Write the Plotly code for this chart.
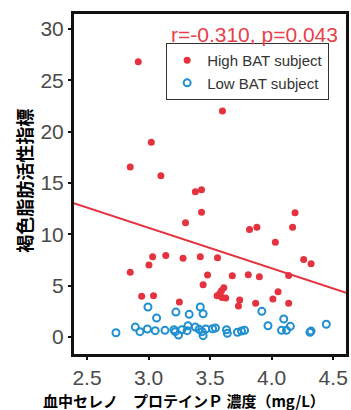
import plotly.graph_objects as go

# High BAT subjects (filled red)
high_x = [2.916, 3.60, 3.022, 2.851, 3.10, 3.38, 3.43, 3.43, 3.30,
          4.19, 4.17, 3.88, 3.82, 4.03,
          2.851, 3.003, 3.033, 3.14, 3.28, 3.42, 3.479, 3.443, 2.944, 3.04, 3.25,
          3.56, 4.26, 4.32, 3.68, 3.81, 3.90, 4.138,
          3.611, 3.592, 3.579, 3.557, 3.597, 3.627,
          3.74, 3.73, 3.87, 4.01, 4.052, 4.138]
high_y = [26.8, 22.0, 18.96, 16.55, 15.7, 14.15, 14.35, 12.14, 11.13,
          12.1, 10.68, 10.68, 10.48, 9.22,
          6.3, 7.01, 7.82, 7.95, 7.66, 7.82, 6.04, 5.1, 3.96, 4.02, 3.41,
          7.72, 7.56, 7.14, 5.97, 6.07, 5.87, 6.0,
          4.8, 4.5, 4.25, 4.02, 3.86, 3.8,
          3.6, 3.02, 3.28, 3.7, 4.41, 3.28]

# Low BAT subjects (open blue)
low_x = [2.995, 3.065, 3.222, 2.735, 2.892, 2.93, 2.99, 3.054, 3.133, 3.206,
         3.216, 3.243, 3.27, 3.313, 3.32,
         3.42, 3.443, 3.33, 3.38, 3.41, 3.435, 3.443, 3.465, 3.52, 3.543,
         3.633, 3.64, 3.722, 3.755, 3.78, 3.92, 3.97,
         4.098, 4.152, 4.12, 4.08, 4.311, 4.32, 4.444]
low_y = [2.92, 1.85, 2.43, 0.42, 0.97, 0.52, 0.78, 0.62, 0.65, 0.71,
         0.52, 0.19, 0.71, 0.62, 1.1,
         2.92, 2.27, 2.21, 0.97, 0.75, 0.52, 0.13, 0.78, 0.81, 0.88,
         0.71, 0.36, 0.46, 0.58, 0.65, 2.5, 1.1,
         1.75, 1.04, 0.65, 0.65, 0.46, 0.58, 1.24]

# Regression line end points
line_x = [2.386, 4.612]
line_y = [13.05, 4.28]

x_ticks = [2.5, 3.0, 3.5, 4.0, 4.5]
x_tick_text = ["2.5", "3.0", "3.5", "4.0", "4.5"]
y_ticks = [0, 5, 10, 15, 20, 25, 30]

x_title = "<b>血中セレノ　プロテインＰ 濃度（mg/L）</b>"
y_title = "<b>褐色脂肪活性指標</b>"
stat_text = "r=-0.310, p=0.043"

RED = "#e5323f"
BLUE = "#1f8fd0"
FONT = "Liberation Sans, Arial, sans-serif"
CJK = "Noto Sans CJK JP, sans-serif"
AXIS = "#111111"

fig = go.Figure()
fig.add_trace(go.Scatter(x=line_x, y=line_y, mode="lines",
                         line=dict(color=RED, width=2), showlegend=False,
                         hoverinfo="skip"))
fig.add_trace(go.Scatter(x=high_x, y=high_y, mode="markers", name="High BAT subject",
                         marker=dict(color=RED, size=7, line=dict(width=0))))
fig.add_trace(go.Scatter(x=low_x, y=low_y, mode="markers", name="Low BAT subject",
                         marker=dict(symbol="circle-open", color=BLUE, size=7,
                                     line=dict(width=2, color=BLUE))))

axis_common = dict(showgrid=False, zeroline=False,
                   showline=True, linecolor=AXIS, linewidth=2, mirror=True,
                   ticks="outside", ticklen=3, tickwidth=1.5, tickcolor=AXIS,
                   automargin=False,
                   tickfont=dict(size=21, color="#4a4a4a", family=FONT))

fig.update_layout(
    width=351, height=410,
    margin=dict(l=73, r=4, t=13, b=55, autoexpand=False),
    paper_bgcolor="white", plot_bgcolor="white",
    font=dict(family=FONT, color="#444444"),
    legend=dict(x=0.34, y=0.912, xanchor="left", yanchor="top",
                bgcolor="white", bordercolor="#333333", borderwidth=1,
                font=dict(size=15, color="#333333", family=FONT),
                itemwidth=30, tracegroupgap=0),
    xaxis=dict(range=[2.386, 4.612], tickvals=x_ticks, ticktext=x_tick_text,
               **axis_common),
    yaxis=dict(range=[-1.75, 31.55], tickvals=y_ticks, **axis_common),
    annotations=[
        dict(text=stat_text, xref="paper", yref="paper",
             x=0.975, y=0.978, xanchor="right", yanchor="top",
             showarrow=False, font=dict(size=21, color="#e8404a", family=FONT)),
        dict(text=x_title, xref="paper", yref="paper",
             x=0.405, y=-0.1316, xanchor="center", yanchor="middle",
             showarrow=False, borderpad=0,
             font=dict(size=15, color="black", family=CJK)),
        dict(text=y_title, xref="paper", yref="paper", textangle=-90,
             x=-0.182, y=0.51, xanchor="center", yanchor="middle",
             showarrow=False, font=dict(size=18, color="black", family=CJK)),
    ],
    shapes=[dict(type="rect", xref="paper", yref="paper", x0=0, x1=1, y0=0, y1=1,
                 line=dict(color=AXIS, width=2), layer="above")],
)

fig.write_html("out.html", config={"displayModeBar": False},
               post_script="document.body.style.margin='0px';")
